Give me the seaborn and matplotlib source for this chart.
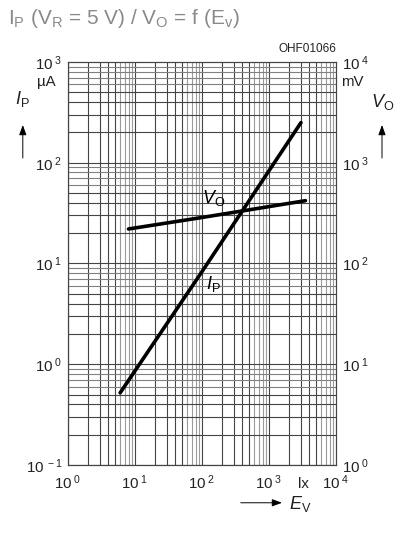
import numpy as np
import pandas as pd
import matplotlib
matplotlib.use("Agg")
import matplotlib.pyplot as plt
import matplotlib.transforms as mtrans
import seaborn as sns

# values
ev_ip = [6, 100, 3000]        # lx
ip = [0.52, 8.3, 250]         # uA
ev_vo = [8, 100, 3500]        # lx
vo = [220, 286, 420]          # mV

x_ticks = [1, 10, 100, 1000, 10000]
x_exp = ["0", "1", "2", "3", "4"]
ip_ticks = [0.1, 1, 10, 100, 1000]
ip_exp = ["-1", "0", "1", "2", "3"]
vo_ticks = [1, 10, 100, 1000, 10000]
vo_exp = ["0", "1", "2", "3", "4"]

sns.set_style("white")
plt.rcParams['font.family'] = ['Liberation Sans', 'DejaVu Sans']
plt.rcParams['mathtext.fontset'] = 'custom'
plt.rcParams['mathtext.rm'] = 'Liberation Sans'
plt.rcParams['mathtext.it'] = 'Liberation Sans:italic'
plt.rcParams['mathtext.bf'] = 'Liberation Sans:bold'

txt = '#222222'
fig = plt.figure(figsize=(4.0, 5.36), dpi=100)
ax = fig.add_axes([0.17, 0.1325, 0.67, 0.7519])

df_ip = pd.DataFrame({'Ev': ev_ip, 'Ip': ip})
df_vo = pd.DataFrame({'Ev': ev_vo, 'Vo': vo})

sns.lineplot(data=df_ip, x='Ev', y='Ip', ax=ax, color='black', lw=2.6, zorder=5)
ax.set_xscale('log')
ax.set_yscale('log')
ax.set_xlim(1, 1e4)
ax.set_ylim(0.1, 1e3)

ax2 = ax.twinx()
sns.lineplot(data=df_vo, x='Ev', y='Vo', ax=ax2, color='black', lw=2.6, zorder=5)
ax2.set_yscale('log')
ax2.set_xscale('log')
ax2.set_xlim(1, 1e4)
ax2.set_ylim(1, 1e4)

# log grid: 1..5 darker, 6..9 lighter
for d in range(0, 4):
    for k in range(1, 10):
        v = k * 10 ** d
        ax.axvline(v, color='#444444' if k <= 5 else '#9a9a9a', lw=0.8, zorder=1)
for d in range(-1, 3):
    for k in range(1, 10):
        v = k * 10 ** d
        ax.axhline(v, color='#444444' if k <= 5 else '#808080', lw=0.8, zorder=1)

for a in (ax, ax2):
    a.set_xlabel('')
    a.set_ylabel('')
    a.tick_params(which='both', length=0)
    for s in a.spines.values():
        s.set_color('#444444')
        s.set_linewidth(0.8)

fs = 10.8
ax.set_xticks(x_ticks)
ax.set_xticklabels([r'$10^{\ %s}$' % e for e in x_exp], fontsize=fs, color=txt)
ax.set_yticks(ip_ticks)
ax.set_yticklabels([r'$10^{\ %s}$' % e for e in ip_exp], fontsize=fs, color=txt)
ax2.set_yticks(vo_ticks)
ax2.set_yticklabels([r'$10^{\ %s}$' % e for e in vo_exp], fontsize=fs, color=txt)
ax.minorticks_off()
ax2.minorticks_off()
ax.tick_params(axis='x', pad=6)
ax.tick_params(axis='y', pad=4)
ax2.tick_params(axis='y', pad=4)

# units
blend = mtrans.blended_transform_factory(ax.transData, ax.transAxes)
ax.text(3300, -0.057, 'lx', transform=blend, ha='center', va='baseline',
        fontsize=fs, color=txt)
fig.text(0.138, 0.847, 'µA', ha='right', va='center', fontsize=fs, color=txt)
fig.text(0.853, 0.847, 'mV', ha='left', va='center', fontsize=fs, color=txt)

# curve labels
ax.text(100, 45, r'$\mathit{V}_\mathregular{O}$', fontsize=13, color='black', ha='left', va='center')
ax.text(115, 6.3, r'$\mathit{I}_\mathregular{P}$', fontsize=13, color='black', ha='left', va='center')

# axis names with arrows
fig.text(0.057, 0.815, r'$\mathit{I}_\mathregular{P}$', fontsize=13, ha='center', va='center', color=txt)
fig.text(0.957, 0.81, r'$\mathit{V}_\mathregular{O}$', fontsize=13, ha='center', va='center', color=txt)
for xa in (0.057, 0.955):
    fig.add_artist(matplotlib.patches.FancyArrowPatch((xa, 0.70), (xa, 0.772),
                   transform=fig.transFigure, arrowstyle='-|>,head_length=6,head_width=2.2',
                   color='black', lw=0.7, mutation_scale=1))
fig.add_artist(matplotlib.patches.FancyArrowPatch((0.595, 0.062), (0.712, 0.062),
               transform=fig.transFigure, arrowstyle='-|>,head_length=6,head_width=2.2',
               color='black', lw=0.7, mutation_scale=1))
fig.text(0.722, 0.060, r'$\mathit{E}_\mathregular{V}$', fontsize=13, ha='left', va='center', color=txt)

fig.text(0.84, 0.898, 'OHF01066', fontsize=8.5, ha='right', va='bottom', color=txt)
fig.text(0.02, 0.966,
         r'I$_\mathregular{P}$ (V$_\mathregular{R}$ = 5 V) / V$_\mathregular{O}$ = f (E$_\mathregular{v}$)',
         fontsize=15, ha='left', va='center', color='#8a8a8a')

fig.savefig('out.png', dpi=100)
